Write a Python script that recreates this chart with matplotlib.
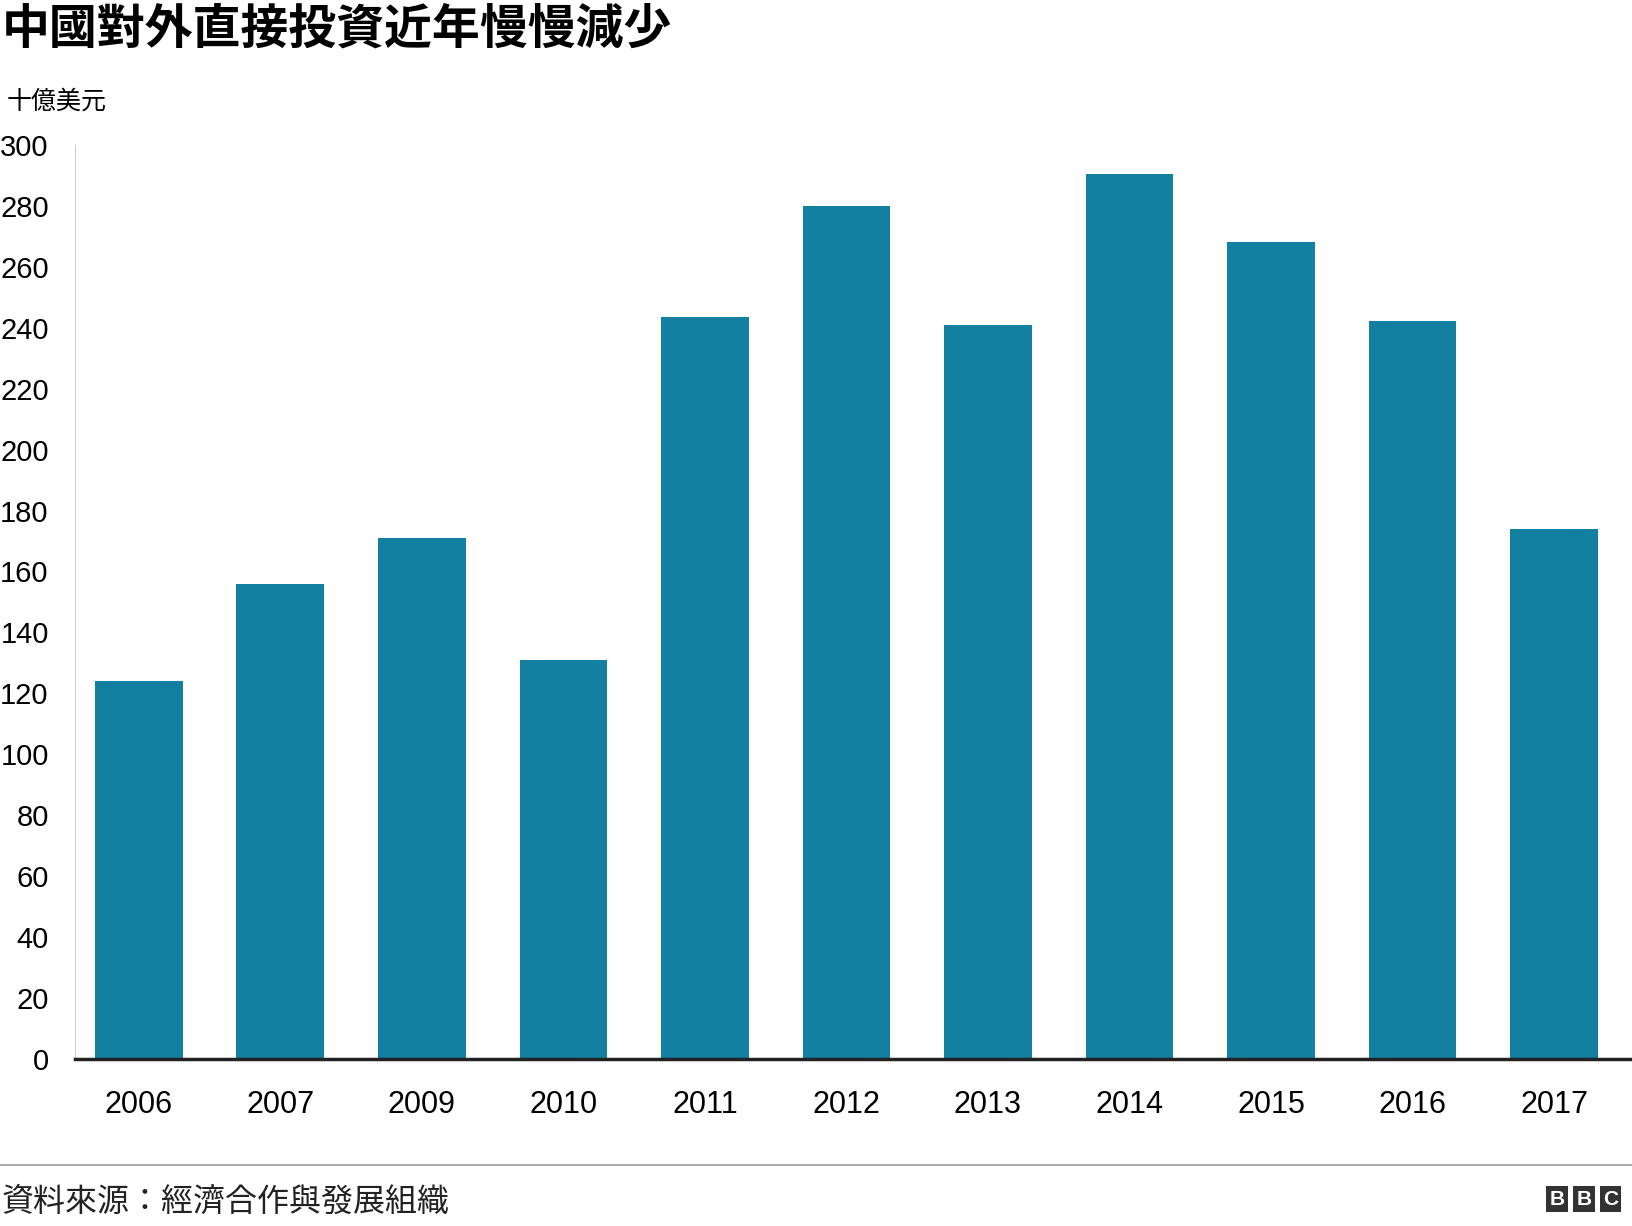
import matplotlib
matplotlib.use("Agg")
import matplotlib.pyplot as plt
from matplotlib.lines import Line2D
from matplotlib import font_manager

years = ["2006", "2007", "2009", "2010", "2011", "2012", "2013", "2014", "2015", "2016", "2017"]
values = [124, 156, 171, 131, 243.5, 280, 241, 290.5, 268, 242, 174]
yticks = list(range(0, 301, 20))

names = {f.name for f in font_manager.fontManager.ttflist}
F = [n for n in ["Noto Sans CJK TC", "Noto Sans CJK JP", "Noto Sans CJK SC", "Noto Sans CJK KR"] if n in names] or ["DejaVu Sans"]

fig = plt.figure(figsize=(16.32, 12.26), dpi=100)
ax = fig.add_axes([0.046, 0.136, 0.954, 0.746])
ax.bar(range(len(years)), values, width=0.62, color="#1380A1", zorder=2)
ax.set_xlim(-0.45, len(years) - 0.45)
ax.set_ylim(0, 300)
ax.set_yticks(yticks)
ax.set_yticklabels([str(v) for v in yticks], fontsize=21, fontfamily="Liberation Sans")
ax.set_xticks(range(len(years)))
ax.set_xticklabels(years, fontsize=22, fontfamily="Liberation Sans")
ax.tick_params(axis="both", length=0)
ax.tick_params(axis="x", pad=22)
ax.tick_params(axis="y", pad=19)
for s in ["top", "right"]:
    ax.spines[s].set_visible(False)
ax.spines["left"].set_color("#cccccc")
ax.spines["bottom"].set_color("#222222")
ax.spines["bottom"].set_linewidth(2.5)

fig.text(0.001, 0.976, "中國對外直接投資近年慢慢減少", fontsize=34.5, fontweight="bold",
         fontfamily=F, va="center", ha="left")
fig.text(0.004, 0.917, "十億美元", fontsize=18, fontfamily=F, va="center", ha="left")
fig.add_artist(Line2D([0, 1], [0.05, 0.05], color="#999999", lw=1.2, transform=fig.transFigure))
fig.text(0.001, 0.02, "資料來源：經濟合作與發展組織", fontsize=23, fontfamily=F,
         va="center", ha="left", color="#222222")
for i, ch in enumerate("BBC"):
    fig.text(0.954 + i * 0.0165, 0.022, ch, fontsize=15, fontweight="bold", color="white",
             fontfamily="Liberation Sans", ha="center", va="center",
             bbox=dict(boxstyle="square,pad=0.15", fc="#333333", ec="none"))
fig.savefig("out.png", dpi=100)
